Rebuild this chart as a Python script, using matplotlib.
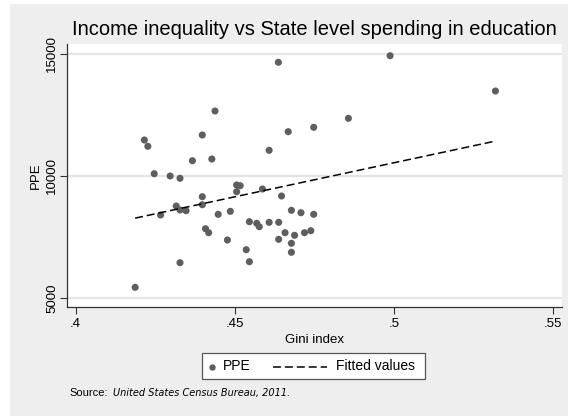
import numpy as np
import matplotlib
matplotlib.use("Agg")
import matplotlib.pyplot as plt
from matplotlib.patches import Rectangle
from matplotlib.lines import Line2D

plt.rcParams['font.family'] = ['Liberation Sans', 'DejaVu Sans']

gini = [0.4637, 0.4438, 0.4668, 0.4216, 0.4227, 0.4398, 0.4608, 0.4367, 0.4428, 0.4247,
        0.4297, 0.4328, 0.4506, 0.4517, 0.4506, 0.4587, 0.4398, 0.4647, 0.4316, 0.4328,
        0.4347, 0.4398, 0.4267, 0.4448, 0.4486, 0.4678, 0.4708, 0.4546, 0.4569, 0.4577,
        0.4608, 0.4638, 0.4408, 0.4418, 0.4477, 0.4638, 0.4658, 0.4688, 0.4678, 0.4678,
        0.4719, 0.4739, 0.4536, 0.4546, 0.4328, 0.4187, 0.4988, 0.5319, 0.4857, 0.4748,
        0.4748]
ppe = [14640, 12651, 11806, 11466, 11209, 11671, 11046, 10621, 10690, 10090,
       9996, 9902, 9628, 9600, 9355, 9465, 9150, 9179, 8770, 8607,
       8578, 8823, 8403, 8431, 8553, 8594, 8497, 8129, 8063, 7925,
       8104, 8104, 7843, 7680, 7381, 7410, 7680, 7573, 7247, 6879,
       7680, 7762, 6985, 6495, 6454, 5449, 14910, 13468, 12353, 11985,
       8431]

x_ticks = [0.4, 0.45, 0.5, 0.55]
x_tick_labels = ['.4', '.45', '.5', '.55']
y_ticks = [5000, 10000, 15000]
y_tick_labels = ['5000', '10000', '15000']

x = np.array(gini)
y = np.array(ppe)
slope, intercept = np.polyfit(x, y, 1)
xf = np.array([x.min(), x.max()])
yf = slope * xf + intercept

W, H = 568, 416
fig = plt.figure(figsize=(W / 100, H / 100), dpi=100, facecolor='white')
bg = '#eeeeee'
fig.patches.append(Rectangle((10 / W, 0), 1 - 10 / W, 1 - 4 / H, transform=fig.transFigure,
                             facecolor=bg, edgecolor='none', zorder=-10))

ax = fig.add_axes([66.5 / W, 1 - 307 / H, (562 - 66.5) / W, (307 - 44.3) / H])
ax.set_facecolor('white')
ax.set_xlim(0.39714, 0.55281)
ax.set_ylim(4645, 15376)

for yt in y_ticks:
    ax.axhline(yt, color='#e4e4e4', lw=1.6, zorder=1)

dash = (0, (5.2, 2.6))
ax.scatter(x, y, s=26, color='#5e5e5e', edgecolors='none', zorder=3)
ax.plot(xf, yf, color='black', lw=1.1, ls=dash, zorder=4)

for s in ['top', 'right']:
    ax.spines[s].set_visible(False)
for s in ['left', 'bottom']:
    ax.spines[s].set_color('#333333')
    ax.spines[s].set_linewidth(0.9)

ax.set_xticks(x_ticks)
ax.set_xticklabels(x_tick_labels)
ax.set_yticks(y_ticks)
ax.set_yticklabels(y_tick_labels, rotation=90, va='center')
ax.tick_params(axis='both', direction='out', length=5, width=0.8, color='#333333',
               labelsize=9.5, labelcolor='black', pad=3)
ax.tick_params(axis='y', pad=1)

ax.set_xlabel('Gini index', fontsize=9.5, labelpad=3)
ax.set_ylabel('PPE', fontsize=9.5, labelpad=3)
ax.set_title('Income inequality vs State level spending in education', fontsize=14.5, pad=7)

# legend drawn manually in figure pixel coordinates
def fx(px):
    return px / W

def fy(py):
    return 1 - py / H

fig.patches.append(Rectangle((fx(202), fy(379)), fx(425) - fx(202), fy(353) - fy(379),
                             transform=fig.transFigure, facecolor='white',
                             edgecolor='#555555', linewidth=0.9, zorder=5))
fig.lines.append(Line2D([fx(211.5)], [fy(366.5)], marker='o', markersize=3.6, ls='none',
                        color='#5e5e5e', transform=fig.transFigure, zorder=6))
fig.text(fx(223), fy(366.5), 'PPE', fontsize=10, va='center', ha='left', zorder=6)
fig.lines.append(Line2D([fx(272.5), fx(327)], [fy(366.5), fy(366.5)], color='black', lw=1.1,
                        ls=dash, transform=fig.transFigure, zorder=6))
fig.text(fx(335.5), fy(366.5), 'Fitted values', fontsize=10, va='center', ha='left', zorder=6)

fig.text(fx(69), fy(393), 'Source:', fontsize=8, va='center', ha='left')
fig.text(fx(113), fy(393), 'United States Census Bureau, 2011.', fontsize=7,
         family='DejaVu Sans', style='italic', va='center', ha='left')

fig.savefig('out.png', dpi=100, facecolor=fig.get_facecolor())
